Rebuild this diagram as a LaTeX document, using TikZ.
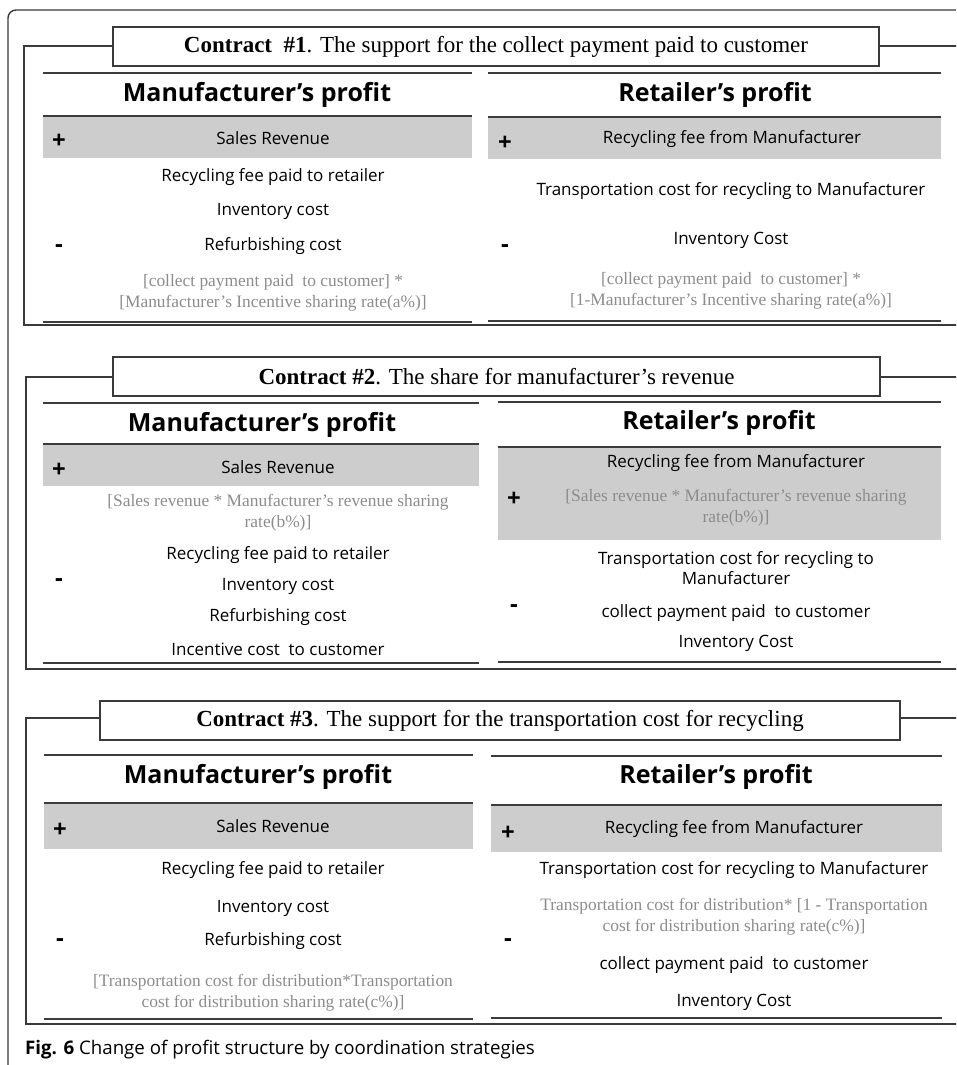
\documentclass[tikz,border=0pt]{standalone}
\usepackage{fontspec}
\setmainfont{Liberation Serif}
\newfontfamily\bodyfont{Open Sans}
\definecolor{framegray}{HTML}{3A3A3A}
\definecolor{rulegray}{HTML}{3C3C3C}
\definecolor{bandgray}{HTML}{CDCDCD}
\definecolor{notegray}{HTML}{8C8C8C}
\tikzset{
  panel/.style={draw=framegray, line width=1.4pt},
  titlebox/.style={draw=framegray, fill=white, line width=1.4pt, minimum height=39pt,
    font=\fontsize{23}{27}\selectfont},
  rule/.style={draw=rulegray, line width=1.8pt},
  band/.style={fill=bandgray},
  colhead/.style={font=\bodyfont\bfseries\fontsize{25}{29}\selectfont},
  item/.style={font=\bodyfont\fontsize{17}{20.5}\selectfont, align=center},
  note/.style={font=\fontsize{17.4}{20.8}\selectfont, text=notegray, align=center},
  sign/.style={font=\bodyfont\bfseries\fontsize{24}{26}\selectfont, anchor=base},
}
\begin{document}
\begin{tikzpicture}[x=1pt,y=-1pt]
\useasboundingbox (0,0) rectangle (956,1065);
\clip (0,0) rectangle (956,1065);
% outer frame
\draw[panel, rounded corners=8pt] (8,1080) -- (8,10) -- (975,10);

% contract 1
\draw[panel] (24,46) rectangle (975,325);
\node[titlebox, minimum width=766pt] (c1) at (496,46.5)
  {\textbf{Contract\ \ \#1}. The support for the collect payment paid to customer};
\fill[band] (43,116) rectangle (472,158);
\fill[band] (488,116) rectangle (941,159);
\draw[rule] (43,73) -- (472,73);
\draw[rule] (43,116) -- (472,116);
\draw[rule] (43,322) -- (472,322);
\draw[rule] (488,73) -- (941,73);
\draw[rule] (488,117) -- (941,117);
\draw[rule] (488,321) -- (941,321);
\node[colhead] (m1) at (257,95) {Manufacturer’s profit};
\node[sign] (m1p) at (59,148) {+};
\node[item] (m1a) at (273,138) {Sales Revenue};
\node[item] (m1b) at (273,177) {Recycling fee paid to retailer};
\node[item] (m1c) at (273,211) {Inventory cost};
\node[item] (m1d) at (273,246) {Refurbishing cost};
\node[sign] (m1m) at (59,252) {-};
\node[note] (m1e) at (273,293) {{[}collect payment paid\ \ to customer] *\\{[}Manufacturer’s Incentive sharing rate(a\%)]};
\node[colhead] (r1) at (715,95) {Retailer’s profit};
\node[sign] (r1p) at (505,150) {+};
\node[item] (r1a) at (732,139) {Recycling fee from Manufacturer};
\node[item] (r1b) at (731,191) {Transportation cost for recycling to Manufacturer};
\node[item] (r1c) at (731,240) {Inventory Cost};
\node[sign] (r1m) at (505,252) {-};
\node[note] (r1d) at (731,291) {{[}collect payment paid\ \ to customer] *\\{[}1-Manufacturer’s Incentive sharing rate(a\%)]};

% contract 2
\draw[panel] (26,377) rectangle (975,669);
\node[titlebox, minimum width=767pt] (c2) at (496.5,376.5)
  {\textbf{Contract \#2}. The share for manufacturer’s revenue};
\fill[band] (43,444) rectangle (479,486);
\fill[band] (498,447) rectangle (941,540);
\draw[rule] (43,403) -- (479,403);
\draw[rule] (43,444) -- (479,444);
\draw[rule] (43,663) -- (479,663);
\draw[rule] (498,402) -- (941,402);
\draw[rule] (498,447) -- (941,447);
\draw[rule] (498,662) -- (941,662);
\node[colhead] (m2) at (262,425) {Manufacturer’s profit};
\node[sign] (m2p) at (59,477) {+};
\node[item] (m2a) at (278,467) {Sales Revenue};
\node[note] (m2b) at (278,513) {{[}Sales revenue * Manufacturer’s revenue sharing\\rate(b\%)]};
\node[item] (m2c) at (278,555) {Recycling fee paid to retailer};
\node[item] (m2d) at (278,586) {Inventory cost};
\node[item] (m2e) at (278,617) {Refurbishing cost};
\node[item] (m2f) at (278,649) {Incentive cost\ \ to customer};
\node[sign] (m2m) at (59,586) {-};
\node[colhead] (r2) at (719,423) {Retailer’s profit};
\node[item] (r2a) at (736,463) {Recycling fee from Manufacturer};
\node[sign] (r2p) at (514,506) {+};
\node[note] (r2b) at (736,508) {{[}Sales revenue * Manufacturer’s revenue sharing\\rate(b\%)]};
\node[item] (r2c) at (736,568) {Transportation cost for recycling to\\Manufacturer};
\node[sign] (r2m) at (514,612) {-};
\node[item] (r2d) at (736,613) {collect payment paid\ \ to customer};
\node[item] (r2e) at (736,643) {Inventory Cost};

% contract 3
\draw[panel] (26,718) rectangle (975,1024);
\node[titlebox, minimum width=800pt] (c3) at (500,720.5)
  {\textbf{Contract \#3}. The support for the transportation cost for recycling};
\fill[band] (44,803) rectangle (473,849);
\fill[band] (491,805) rectangle (942,852);
\draw[rule] (44,755) -- (473,755);
\draw[rule] (44,803) -- (473,803);
\draw[rule] (44,1019) -- (473,1019);
\draw[rule] (491,756) -- (942,756);
\draw[rule] (491,805) -- (942,805);
\draw[rule] (491,1018) -- (942,1018);
\node[colhead] (m3) at (258,777) {Manufacturer’s profit};
\node[sign] (m3p) at (60,837) {+};
\node[item] (m3a) at (273,826) {Sales Revenue};
\node[item] (m3b) at (273,870) {Recycling fee paid to retailer};
\node[item] (m3c) at (273,908) {Inventory cost};
\node[item] (m3d) at (273,941) {Refurbishing cost};
\node[sign] (m3m) at (60,946) {-};
\node[note] (m3e) at (273,993) {{[}Transportation cost for distribution*Transportation\\cost for distribution sharing rate(c\%)]};
\node[colhead] (r3) at (716,777) {Retailer’s profit};
\node[sign] (r3p) at (508,840) {+};
\node[item] (r3a) at (734,829) {Recycling fee from Manufacturer};
\node[item] (r3b) at (734,870) {Transportation cost for recycling to Manufacturer};
\node[note] (r3c) at (734,917) {Transportation cost for distribution* {[}1 - Transportation\\cost for distribution sharing rate(c\%)]};
\node[sign] (r3m) at (508,946) {-};
\node[item] (r3d) at (734,965) {collect payment paid\ \ to customer};
\node[item] (r3e) at (734,1002) {Inventory Cost};

% caption
\node[font=\bodyfont\fontsize{18.7}{22}\selectfont, anchor=west, inner sep=0pt] (cap) at (25,1050)
  {\textbf{Fig. 6} Change of profit structure by coordination strategies};
\end{tikzpicture}
\end{document}
